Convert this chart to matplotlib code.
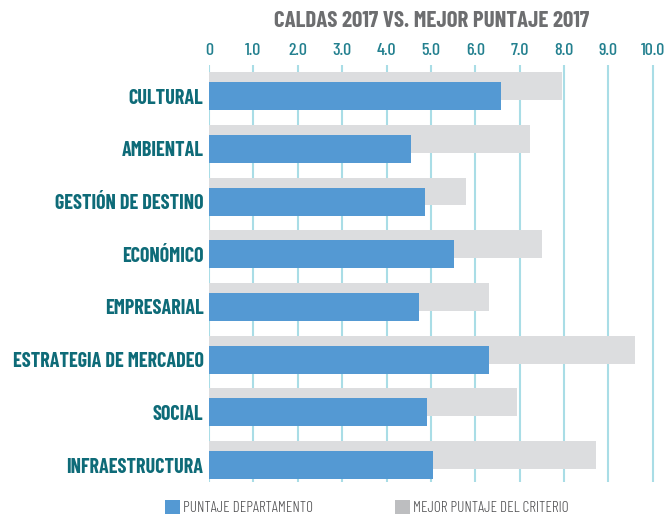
import numpy as np
import matplotlib
matplotlib.use("Agg")
import matplotlib.pyplot as plt
from matplotlib.patches import Rectangle

# ==========================================================
# DATA
# ==========================================================
categorias = [
    "CULTURAL",
    "AMBIENTAL",
    "GESTIÓN DE DESTINO",
    "ECONÓMICO",
    "EMPRESARIAL",
    "ESTRATEGIA DE MERCADEO",
    "SOCIAL",
    "INFRAESTRUCTURA",
]
puntaje_departamento = [6.59, 4.56, 4.86, 5.53, 4.74, 6.32, 4.92, 5.04]
mejor_puntaje = [7.96, 7.24, 5.78, 7.51, 6.30, 9.61, 6.95, 8.73]
ticks = [0, 1, 2, 3, 4, 5, 6, 7, 8, 9, 10]
tick_labels = ["0", "1.0", "2.0", "3.0", "4.0", "5.0",
               "6.0", "7.0", "8.0", "9.0", "10.0"]

titulo = "CALDAS 2017 VS. MEJOR PUNTAJE 2017"
serie_1 = "PUNTAJE DEPARTAMENTO"
serie_2 = "MEJOR PUNTAJE DEL CRITERIO"

# ==========================================================
# STYLE
# ==========================================================
FONT = ["Barlow Condensed", "DejaVu Sans"]
plt.rcParams["font.family"] = FONT

azul = "#5499d3"
gris = "#dcdddf"
gris_leyenda = "#bdbec0"
teal = "#0e6b78"
teal_tick = "#23808f"
grid_col = "#a9dde6"

W, H = 665, 514

# ==========================================================
# FIGURE
# ==========================================================
fig = plt.figure(figsize=(W / 100, H / 100), dpi=100)
ax = fig.add_axes([209 / W, 1 - 482 / H, 446 / W, 417 / H])

y = np.arange(len(categorias))
h = 0.53
off = 0.19

ax.barh(y - off, mejor_puntaje, height=h, color=gris, zorder=2)
ax.barh(y, puntaje_departamento, height=h, color=azul, zorder=3)

ax.set_xlim(0, 10.05)
ax.set_ylim(7.32, -0.59)

ax.set_xticks(ticks)
ax.set_xticklabels(tick_labels)
ax.xaxis.tick_top()
ax.tick_params(axis="x", length=0, pad=5, labelsize=13,
               labelcolor=teal_tick)
for lab in ax.get_xticklabels():
    lab.set_fontweight(500)

ax.set_yticks(y)
ax.set_yticklabels(categorias)
ax.tick_params(axis="y", length=0, pad=4, labelsize=14.5,
               labelcolor=teal)
for lab in ax.get_yticklabels():
    lab.set_fontweight(700)

ax.grid(axis="x", color=grid_col, linewidth=1.5, zorder=1)
ax.set_axisbelow(True)
for s in ax.spines.values():
    s.set_visible(False)

fig.text(432 / W, 1 - 21 / H, titulo, ha="center", va="center",
         fontsize=16.5, fontweight=700, color="#6d6e70")

# ==========================================================
# LEGEND (drawn by hand, bottom edge clipped like the source)
# ==========================================================
leyenda = [(165, azul, serie_1), (395, gris_leyenda, serie_2)]
for x0, col, txt in leyenda:
    fig.add_artist(Rectangle((x0 / W, 0), 15 / W, 14 / H,
                             transform=fig.transFigure,
                             facecolor=col, edgecolor="none"))
    fig.text((x0 + 18) / W, 1 - 508 / H, txt, ha="left", va="center",
             fontsize=11, fontweight=300, color="#4d4d4f")

fig.savefig("out.png", dpi=100)
